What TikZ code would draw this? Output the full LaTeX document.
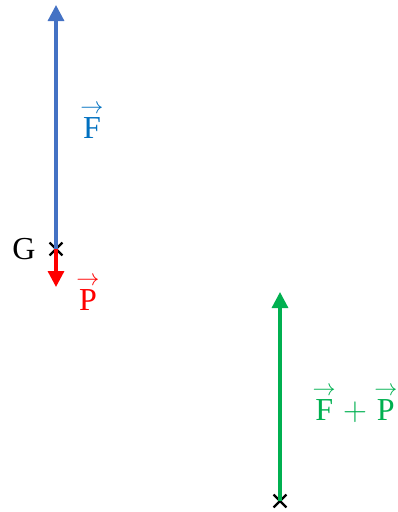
\documentclass[tikz,border=0pt]{standalone}
\usepackage{amsmath}
\usepackage{fontspec}
\setmainfont{Liberation Serif}
\usetikzlibrary{arrows.meta,positioning,shapes.misc}

\definecolor{forceblue}{HTML}{4472C4}
\definecolor{labelblue}{HTML}{0070C0}
\definecolor{weightred}{HTML}{FF0000}
\definecolor{sumgreen}{HTML}{00B050}

\newcommand{\vecto}[1]{\overset{\scriptstyle\rightarrow}{\text{\raisebox{0pt}[0.58em]{#1}}}}

\begin{document}
\begin{tikzpicture}[
  x=0.75pt, y=-0.75pt,
  every node/.style={font=\fontsize{24}{28}\selectfont},
  cross/.style={cross out, draw=black, line width=1.6pt, minimum size=8pt, inner sep=0pt},
  force/.style={line width=2.4pt, -{Triangle[width=12pt,length=12pt]}},
  >=Latex
]
  \useasboundingbox (0,0) rectangle (398,512);

  % application points
  \node[cross] (g) at (56,249) {};
  \node[cross] (o) at (280,501) {};
  \node[left=7pt of g] (gl) {G};

  % arrow tips
  \coordinate (ftip) at (56,5);
  \coordinate (ptip) at (56,287);
  \coordinate (stip) at (280,292);

  \draw[force, forceblue] (g.center) -- (ftip);
  \draw[force, weightred] (g.center) -- (ptip);
  \draw[force, sumgreen] (o.center) -- (stip);

  % labels
  \node[text=labelblue] (fl) at (92,120) {$\vecto{F}$};
  \node[text=weightred] (pl) at (88,292) {$\vecto{P}$};
  \node[text=sumgreen] (sl) at (355,403) {$\vecto{F}+\vecto{P}$};
\end{tikzpicture}
\end{document}
